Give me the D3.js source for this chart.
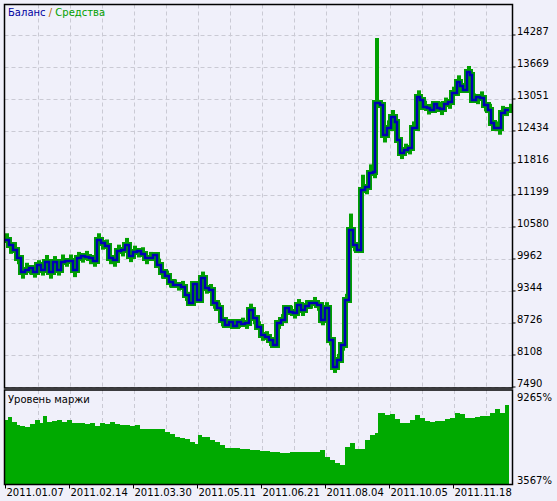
<!DOCTYPE html>
<html><head><meta charset="utf-8">
<script src="https://cdn.jsdelivr.net/npm/d3@7"></script>
<style>body{margin:0;background:#fff}svg{display:block}</style></head>
<body><svg id="c" width="557" height="501"></svg>
<script>
// trade index (x) and balance values
const tradeIdx=[0,4,8,12,16,20,24,28,32,36,40,44,48,52,56,60,64,68,72,76,80,84,88,92,96,100,104,108,112,116,120,124,128,132,136,140,144,148,152,156,160,164,168,172,176,180,184,188,192,196,200,204,208,212,216,220,224,228,232,236,240,244,248,252,256,260,264,268,272,276,280,284,288,292,296,300,304,308,312,316,320,324,328,332,336,340,344,348,352,356,360,364,368,370,375,378,382,386,390,392,395,399,403,407,412,415,418,422,425,429,432,435,439,443,447,452,455,458,462,465,467,471,475,479,483,486,489,493,496,500,504];
const balance=[10329,10232,10135,9981,9711,9749,9788,9711,9846,9749,9904,9711,9904,9749,9904,9923,9923,9749,9981,10020,10000,9981,9923,10329,10271,10213,9981,9942,10116,10135,10232,10020,10097,10116,10058,9981,9981,10039,9846,9711,9633,9518,9460,9460,9421,9267,9112,9479,9170,9595,9402,9363,9112,9015,8784,8687,8745,8668,8745,8707,8726,8977,8822,8649,8494,8456,8398,8301,8726,8784,9015,8938,8919,9073,8977,9054,9112,9112,9073,8784,9015,8398,7876,8011,8301,9170,10522,10232,10135,11294,11352,11622,11641,12974,12935,12356,12491,12704,12607,12260,12009,12067,12105,12491,13090,13032,12897,12877,12839,12955,12877,12858,12955,12993,13167,13380,13303,13225,13573,13515,13032,13090,13070,12935,12839,12588,12491,12491,12781,12839,12839];
const equity=[10420,10100,10250,9900,9620,9850,9700,9640,9900,9680,10000,9620,9980,9680,10010,9850,10010,9650,10060,9930,10080,9900,9850,10420,10180,10300,9900,9850,10200,10050,10330,9940,10180,10030,10150,9900,10060,9960,9930,9620,9700,9450,9530,9390,9500,9190,9200,9400,9260,9680,9330,9440,9040,9080,8700,8760,8670,8740,8670,8790,8650,9060,8740,8720,8420,8530,8320,8380,8650,8860,8940,9020,8850,9150,8900,9130,9040,9190,9000,8720,9090,8330,7800,8090,8230,9250,10800,10150,10220,11550,11250,11750,11560,14190,12850,12250,12600,12800,12500,12180,11930,12150,12020,12580,13180,12940,12980,12790,12920,12870,12960,12780,13040,12900,13250,13470,13220,13310,13650,13430,13120,12990,13160,12850,12920,12480,12580,12400,12880,12760,12920];
const balTicks=[14287,13669,13051,12434,11816,11199,10580,9962,9344,8726,8108,7490];
// margin level (%)
const marginIdx=[0,3,7,12,15,20,25,30,35,38,42,47,52,57,62,67,75,80,85,90,95,100,105,110,115,125,130,135,140,145,150,155,160,165,170,175,180,185,190,193,197,205,210,215,220,225,230,235,245,255,265,275,285,295,305,315,320,325,330,335,340,345,350,355,360,365,370,373,380,385,390,395,400,405,410,415,420,425,430,435,440,445,450,455,460,465,470,475,480,485,490,495,500,504];
const margin=[7488,7672,7366,7182,7121,7059,7243,7488,7304,7733,7366,7427,7488,7366,7488,7304,7304,7243,7304,7121,7304,7243,7366,7243,7182,7121,7182,6937,6937,6937,6937,6937,6753,6631,6447,6385,6324,6140,6018,6569,6447,6263,6140,5957,5773,5773,5773,5711,5650,5589,5528,5466,5528,5528,5528,5650,5221,5037,4854,4731,5834,6079,5711,5711,6263,6569,6692,7917,7795,7856,7550,7304,7304,7488,7795,7611,7427,7366,7427,7427,7550,7611,7917,7856,7611,7611,7672,7733,7733,7917,8162,7917,8407,8346];
const marginTicks=[9265,3567];
const dateTicks=[[0,"2011.01.07"],[64,"2011.02.14"],[128,"2011.03.30"],[192,"2011.05.11"],[256,"2011.06.21"],[320,"2011.08.04"],[384,"2011.10.05"],[448,"2011.11.18"]];

const svg=d3.select("#c");
const L=4.5,R=512.5,T1=4.5,B1=388,T2=390,B2=484.5;
svg.append("rect").attr("width",557).attr("height",501).attr("fill","#F0F0FA");
const x=d3.scaleLinear().domain([0,506]).range([5,511]);
const y=d3.scaleLinear().domain([7490,14287]).range([387,35]);
const ym=d3.scaleLinear().domain([3567,9265]).range([484,391]);
const font="Tahoma,'DejaVu Sans',sans-serif";

// grid
const g=svg.append("g").attr("stroke","#CACAD4").attr("stroke-dasharray","4,3").attr("stroke-width",1);
for(let t=32.7;t<506;t+=32){const px=Math.round(x(t))+0.5;
  g.append("line").attr("x1",px).attr("x2",px).attr("y1",T1).attr("y2",B1);
  g.append("line").attr("x1",px).attr("x2",px).attr("y1",T2).attr("y2",B2);}
balTicks.forEach(v=>{const py=Math.round(y(v))+0.5;g.append("line").attr("x1",L).attr("x2",R).attr("y1",py).attr("y2",py);});

// margin area
svg.append("path").datum(marginIdx.map((t,i)=>[t,margin[i]]))
 .attr("fill","#00AA00")
 .attr("d",d3.area().x(d=>x(d[0])).y0(B2).y1(d=>ym(d[1])).curve(d3.curveStepAfter));

// equity & balance
const pts=(arr)=>tradeIdx.map((t,i)=>[t,arr[i]]);
const ln=d3.line().x(d=>x(d[0])).y(d=>y(d[1])).curve(d3.curveStepAfter);
svg.append("path").datum(pts(balance)).attr("fill","none").attr("stroke","#00A000").attr("stroke-width",6).attr("d",ln);
svg.append("g").attr("stroke","#00A000").attr("stroke-width",4).selectAll("line").data(tradeIdx).join("line")
 .attr("x1",(t,i)=>x(t)+2).attr("x2",(t,i)=>x(t)+2)
 .attr("y1",(t,i)=>y(balance[i])+(equity[i]>balance[i]?3:-3)).attr("y2",(t,i)=>y(equity[i])+(equity[i]>balance[i]?-2:2));
svg.append("path").datum(pts(balance)).attr("fill","none").attr("stroke","#0000B4").attr("stroke-width",2.5).attr("d",ln);

// borders
[[T1,B1],[T2,B2]].forEach(([a,b])=>svg.append("rect").attr("x",L).attr("y",a).attr("width",R-L).attr("height",b-a).attr("fill","none").attr("stroke","#000").attr("stroke-width",1.5));

// right axis
balTicks.forEach(v=>{svg.append("line").attr("x1",R).attr("x2",R+3).attr("y1",y(v)).attr("y2",y(v)).attr("stroke","#000");
  svg.append("text").attr("x",517).attr("y",y(v)).attr("font-family",font).attr("font-size",10).attr("fill","#000").text(v);});
svg.append("text").attr("x",517).attr("y",401).attr("font-family",font).attr("font-size",10).text(marginTicks[0]+"%");
svg.append("text").attr("x",517).attr("y",484).attr("font-family",font).attr("font-size",10).text(marginTicks[1]+"%");

// bottom axis
dateTicks.forEach(([t,s])=>{const px=Math.round(x(t))+0.5;
  svg.append("line").attr("x1",px).attr("x2",px).attr("y1",B2).attr("y2",B2+4).attr("stroke","#000");
  svg.append("text").attr("x",px+1).attr("y",496).attr("font-family",font).attr("font-size",10).text(s);});

// titles
const tt=svg.append("text").attr("x",8).attr("y",16).attr("font-family",font).attr("font-size",10);
tt.append("tspan").attr("fill","#0000A0").text("Баланс ");
tt.append("tspan").attr("fill","#B06000").text("/ ");
tt.append("tspan").attr("fill","#00A000").text("Средства");
svg.append("text").attr("x",8).attr("y",403).attr("font-family",font).attr("font-size",10).attr("fill","#000").text("Уровень маржи");
</script></body></html>
